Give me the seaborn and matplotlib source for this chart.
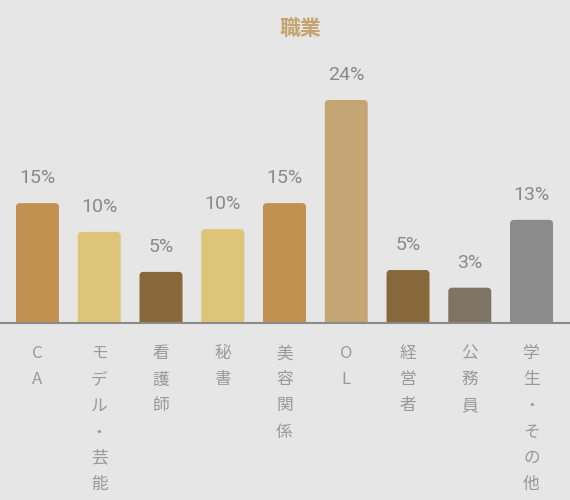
import matplotlib
matplotlib.use("Agg")
import matplotlib.pyplot as plt
from matplotlib.patches import FancyBboxPatch
import seaborn as sns
import pandas as pd

categories = ["CA", "モデル・芸能", "看護師", "秘書", "美容関係", "OL", "経営者", "公務員", "学生・その他"]
bar_values = [12.9, 9.8, 5.5, 10.1, 12.9, 24.0, 5.7, 3.8, 11.1]
value_labels = ["15%", "10%", "5%", "10%", "15%", "24%", "5%", "3%", "13%"]
bar_colors = ["#c09150", "#dcc577", "#86683a", "#dcc577", "#c09150",
              "#c4a674", "#86683a", "#7e7464", "#8c8c8c"]
title = "職業"

sns.set_theme(style="white")
plt.rcParams["font.family"] = ["Roboto", "Noto Sans CJK JP", "DejaVu Sans"]

BG = "#e6e6e6"
fig = plt.figure(figsize=(5.7, 5.0), dpi=100, facecolor=BG)
ax = fig.add_axes([0.0, 0.354, 1.0, 0.526])
ax.set_facecolor(BG)

df = pd.DataFrame({"cat": categories, "val": bar_values})
sns.barplot(data=df, x="cat", y="val", hue="cat", palette=bar_colors,
            legend=False, width=0.696, ax=ax, saturation=1)

ax.set_xlim(-0.607, 8.623)
ax.set_ylim(0, 28.3)
fig.canvas.draw()

# aspect for rounded corners
p0 = ax.transData.transform((0, 0))
p1 = ax.transData.transform((1, 1))
aspect = (p1[0] - p0[0]) / (p1[1] - p0[1])
r = 4.0 / (p1[0] - p0[0])

for patch in list(ax.patches):
    x, y = patch.get_x(), patch.get_y()
    w, h = patch.get_width(), patch.get_height()
    fc = patch.get_facecolor()
    patch.remove()
    fb = FancyBboxPatch((x, y - 2), w, h + 2,
                        boxstyle=f"round,pad=0,rounding_size={r}",
                        mutation_aspect=aspect, facecolor=fc, edgecolor="none",
                        clip_on=True)
    ax.add_patch(fb)
    ax.annotate(value_labels[len(ax.texts)], (x + w / 2, h), xytext=(0, 18),
                textcoords="offset points", ha="center", va="center",
                fontsize=14, color="#8a8a8a", family=["Roboto", "DejaVu Sans"])

for s in ["top", "right", "left"]:
    ax.spines[s].set_visible(False)
ax.spines["bottom"].set_color("#8a8a8a")
ax.spines["bottom"].set_linewidth(1.5)
ax.set_yticks([])
ax.set_xlabel("")
ax.set_ylabel("")
ax.set_xticks(range(len(categories)))
ax.set_xticklabels(["\n".join(c) for c in categories],
                   family=["Noto Sans CJK JP", "DejaVu Sans"],
                   fontsize=12, color="#999999", linespacing=1.7)
ax.tick_params(axis="x", length=0, pad=16)

fig.text(300 / 570, 1 - 28 / 500, title, ha="center", va="center",
         fontsize=15, fontweight="bold", color="#c4a46c",
         family=["Noto Sans CJK JP", "DejaVu Sans"])

fig.savefig("out.png", dpi=100, facecolor=BG)
